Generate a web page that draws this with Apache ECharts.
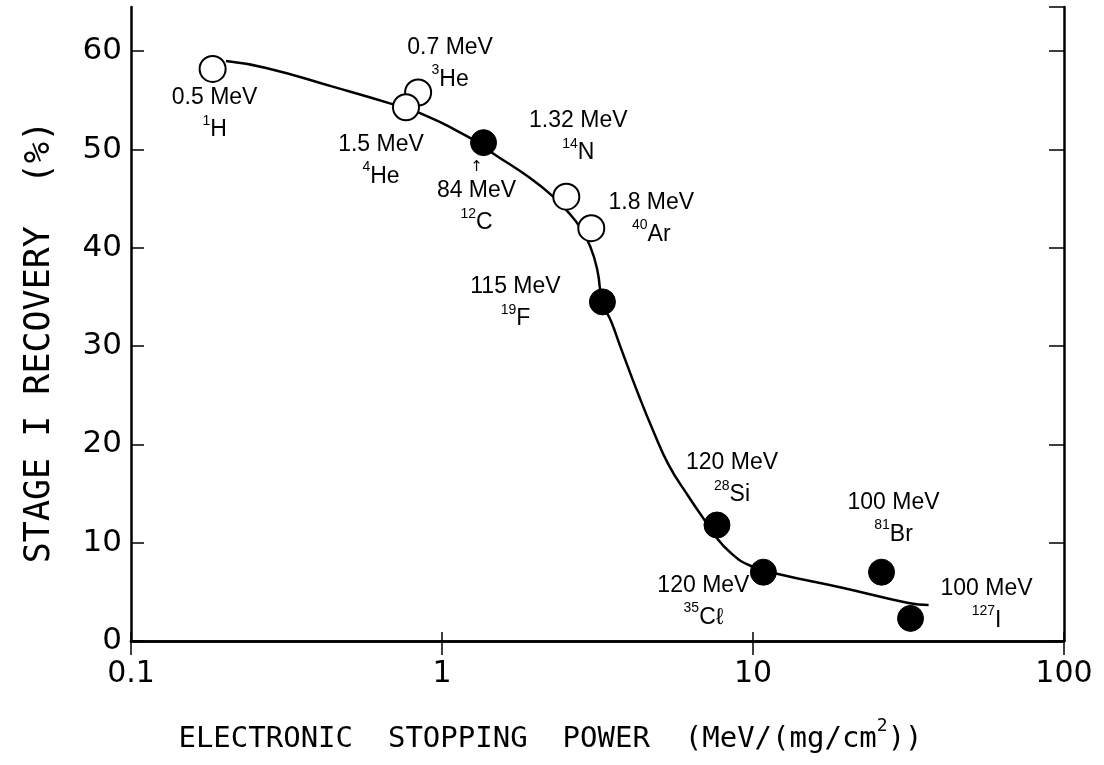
<!DOCTYPE html>
<html>
<head>
<meta charset="utf-8">
<script src="https://cdn.jsdelivr.net/npm/echarts@6/dist/echarts.min.js"></script>
<style>
  html, body { margin: 0; padding: 0; background: #fff; }
  #chart { width: 1104px; height: 765px; }
</style>
</head>
<body>
<div id="chart"></div>
<script>
// Measured points: stopping power (MeV/(mg/cm^2)) vs stage I recovery (%)
const stopping   = [0.183, 0.838, 0.766, 1.36, 2.51, 3.02, 3.28, 7.66, 10.8, 25.9, 32.1];
const recovery   = [58.2, 55.8, 54.3, 50.7, 45.2, 42.0, 34.5, 11.8, 7.0, 7.0, 2.3];
const energies   = ['0.5 MeV', '0.7 MeV', '1.5 MeV', '84 MeV', '1.32 MeV', '1.8 MeV', '115 MeV', '120 MeV', '120 MeV', '100 MeV', '100 MeV'];
const massNumbers = ['1', '3', '4', '12', '14', '40', '19', '28', '35', '81', '127'];
const elements   = ['H', 'He', 'He', 'C', 'N', 'Ar', 'F', 'Si', 'Cℓ', 'Br', 'I'];
const filled     = [false, false, false, true, false, false, true, true, true, true, true];

// Hand-drawn trend curve through the data
const curveX = [0.202, 0.272, 0.445, 0.68, 0.85, 1.26, 1.46, 1.92, 2.28, 2.55, 2.79, 3.0, 3.16, 3.28, 3.51, 3.75, 4.29, 4.76, 5.36, 6.22, 6.95, 7.43, 8.49, 9.85, 12.04, 19.2, 31.6, 36.7];
const curveY = [59.0, 58.3, 56.4, 54.7, 53.7, 51.0, 49.6, 47.1, 45.2, 43.6, 42.0, 40.1, 37.7, 34.5, 32.4, 29.9, 25.0, 21.5, 17.9, 14.65, 12.4, 11.0, 8.95, 7.63, 6.82, 5.44, 3.87, 3.66];

// Axis tick values
const xTicks = [0.1, 1, 10, 100];
const yTicks = [0, 10, 20, 30, 40, 50, 60];

// Label placement (pixel offset of each label block from its marker centre)
const labelOffsets = [[2, 45], [32, -29], [-25, 53], [-7, 56], [12, -60], [60, -10], [-87, 1], [15, -46], [-60, 29], [12, -54], [76, -14]];

const LABEL_FONT = 'Liberation Sans';
const TITLE_FONT = 'DejaVu Sans Mono';
const TICK_FONT = 'DejaVu Sans';

const pointData = stopping.map((x, i) => {
  const text = (i === 3 ? '{arr|↑}\n' : '') +
    '{e|' + energies[i] + '}\n{s|' + massNumbers[i] + '}{n|' + elements[i] + '}';
  return {
    value: [x, recovery[i]],
    itemStyle: filled[i]
      ? { color: '#000', borderColor: '#000', borderWidth: 1, opacity: 1 }
      : { color: '#fff', borderColor: '#000', borderWidth: 2, opacity: 1 },
    label: { offset: labelOffsets[i], formatter: text }
  };
});

const curveData = curveX.map((x, i) => [x, curveY[i]]);

const axisLineStyle = { color: '#000', width: 2.5 };

const chart = echarts.init(document.getElementById('chart'), null, { renderer: 'canvas' });
chart.setOption({
  backgroundColor: '#fff',
  animation: false,
  grid: { left: 131, right: 40, top: 7, bottom: 124, containLabel: false, outerBoundsMode: 'none' },
  xAxis: [
    {
      type: 'log', logBase: 10, min: xTicks[0], max: xTicks[xTicks.length - 1],
      position: 'bottom',
      name: 'ELECTRONIC  STOPPING  POWER  (MeV/(mg/cm{sup|2}))',
      nameLocation: 'middle', nameGap: 76,
      nameTextStyle: {
        fontFamily: TITLE_FONT, fontSize: 29, lineHeight: 44, color: '#000',
        padding: [0, 94, 0, 0],
        rich: { sup: { fontFamily: TITLE_FONT, fontSize: 18, verticalAlign: 'top', color: '#000' } }
      },
      axisLine: { lineStyle: axisLineStyle },
      axisTick: { inside: true, length: 9, lineStyle: { color: '#000', width: 1.5 } },
      minorTick: { show: false },
      splitLine: { show: false },
      axisLabel: {
        margin: 18, fontFamily: TICK_FONT, fontSize: 30, color: '#000',
        formatter: v => xTicks.find(t => Math.abs(Math.log10(t) - Math.log10(v)) < 1e-6) + ''
      }
    },
    {
      type: 'log', logBase: 10, min: xTicks[0], max: xTicks[xTicks.length - 1],
      position: 'top',
      axisLine: { lineStyle: axisLineStyle },
      axisTick: { inside: true, length: 14, lineStyle: { color: '#000', width: 1.5 } },
      axisLabel: { show: false },
      splitLine: { show: false }
    }
  ],
  yAxis: [
    {
      type: 'value', min: yTicks[0], max: 64.5, interval: 10,
      position: 'left',
      name: 'STAGE I RECOVERY  (%)',
      nameLocation: 'middle', nameGap: 74, nameRotate: 90,
      nameTextStyle: { fontFamily: TITLE_FONT, fontSize: 35, color: '#000', padding: [0, 36, 0, 0] },
      axisLine: { show: true, lineStyle: axisLineStyle },
      axisTick: { show: true, inside: true, length: 13, lineStyle: { color: '#000', width: 1.5 } },
      splitLine: { show: false },
      axisLabel: {
        margin: 9, fontFamily: TICK_FONT, fontSize: 31, color: '#000',
        showMaxLabel: false,
        formatter: v => (yTicks.indexOf(v) >= 0 ? String(v) : '')
      }
    },
    {
      type: 'value', min: yTicks[0], max: 64.5, interval: 10,
      position: 'right',
      axisLine: { show: true, lineStyle: axisLineStyle },
      axisTick: { show: true, inside: true, length: 15, lineStyle: { color: '#000', width: 1.5 } },
      axisLabel: { show: false },
      splitLine: { show: false }
    }
  ],
  series: [
    {
      type: 'line',
      data: curveData,
      smooth: 0.5,
      showSymbol: false,
      lineStyle: { color: '#000', width: 2.5 },
      z: 2,
      silent: true
    },
    {
      type: 'scatter',
      data: pointData,
      symbol: 'circle',
      symbolSize: 26,
      z: 3,
      itemStyle: { opacity: 1 },
      label: {
        show: true,
        position: 'inside',
        align: 'center',
        verticalAlign: 'middle',
        color: '#000',
        opacity: 1,
        rich: {
          e: { fontFamily: LABEL_FONT, fontSize: 23, lineHeight: 32, color: '#000' },
          n: { fontFamily: LABEL_FONT, fontSize: 23, lineHeight: 32, color: '#000' },
          s: { fontFamily: LABEL_FONT, fontSize: 14, verticalAlign: 'top', color: '#000' },
          arr: { fontFamily: 'DejaVu Sans', fontSize: 15, lineHeight: 16, color: '#000' }
        }
      }
    }
  ]
});
</script>
</body>
</html>
